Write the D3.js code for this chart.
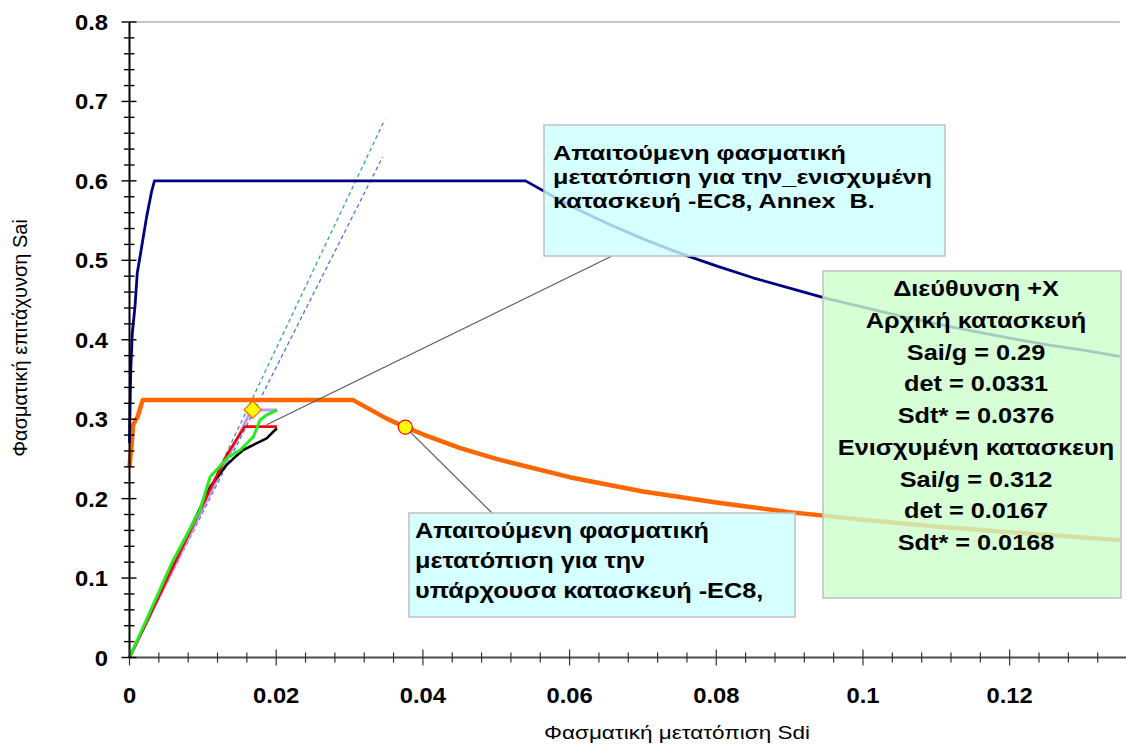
<!DOCTYPE html>
<html>
<head>
<meta charset="utf-8">
<script src="https://cdn.jsdelivr.net/npm/d3@7"></script>
<style>
  html, body { margin: 0; padding: 0; background: #ffffff; }
  svg { display: block; font-family: "Liberation Sans", Arial, sans-serif; }
  text { white-space: pre; }
</style>
</head>
<body>
<svg id="chart" width="1126" height="744"></svg>
<script>
// Axis settings
const xDomain = [0, 0.135];
const yDomain = [0, 0.8];
const xTickLabels = [0, 0.02, 0.04, 0.06, 0.08, 0.1, 0.12];
const yTickLabels = [0, 0.1, 0.2, 0.3, 0.4, 0.5, 0.6, 0.7, 0.8];

// Demand spectrum, strengthened structure (EC8 Annex B) [Sd, Sa]
const spectrumStrengthened = [
  [0, 0.27], [0.00005, 0.30], [0.00016, 0.358], [0.00038, 0.408], [0.00075, 0.442],
  [0.00106, 0.484], [0.00166, 0.517], [0.00234, 0.555], [0.0030, 0.586], [0.0034, 0.600],
  [0.054, 0.600], [0.060, 0.569], [0.065, 0.547], [0.070, 0.527], [0.075, 0.509],
  [0.080, 0.493], [0.085, 0.478], [0.090, 0.465], [0.095, 0.452], [0.100, 0.441],
  [0.105, 0.430], [0.110, 0.420], [0.115, 0.411], [0.120, 0.402], [0.125, 0.394],
  [0.130, 0.387], [0.135, 0.379]
];

// Demand spectrum, existing structure (EC8) [Sd, Sa]
const spectrumExisting = [
  [0, 0.24], [0.0003, 0.27], [0.0005, 0.293], [0.0011, 0.303], [0.0018, 0.324],
  [0.0305, 0.324], [0.035, 0.301], [0.0376, 0.290], [0.040, 0.281], [0.045, 0.264],
  [0.050, 0.250], [0.060, 0.227], [0.070, 0.209], [0.080, 0.195], [0.090, 0.183],
  [0.100, 0.1735], [0.110, 0.165], [0.120, 0.1576], [0.135, 0.148]
];

// Elastic stiffness lines
const stiffnessTeal = [[0, 0], [0.0348, 0.677]];
const stiffnessBlue = [[0, 0], [0.0345, 0.630]];

// Capacity curves [Sd, Sa]
const capacityLavender = [[0, 0], [0.0166, 0.3115], [0.0201, 0.3115]];
const capacityBlack = [
  [0, 0], [0.0110, 0.215], [0.0132, 0.242], [0.0142, 0.2507], [0.0155, 0.2612],
  [0.0173, 0.2696], [0.0187, 0.2759], [0.0196, 0.2842], [0.0201, 0.2885]
];
const capacityRed = [[0, 0], [0.0132, 0.254], [0.0157, 0.2906], [0.0201, 0.2906]];
const capacityGreen = [
  [0, 0], [0.00575, 0.1186], [0.0096, 0.1857], [0.0110, 0.2276], [0.0135, 0.2528],
  [0.0151, 0.2612], [0.0169, 0.278], [0.0178, 0.299], [0.0187, 0.3053], [0.0201, 0.3115]
];

// Performance points
const pointStrengthened = [0.0168, 0.312];
const pointExisting = [0.0376, 0.290];

// Annotation texts
const noteAnnexB = ["Απαιτούμενη φασματική", "μετατόπιση για την_ενισχυμένη", "κατασκευή -EC8, Annex  B."];
const noteEC8 = ["Απαιτούμενη φασματική", "μετατόπιση για την", "υπάρχουσα κατασκευή -EC8,"];
const legendLines = [
  "Διεύθυνση +Χ", "Αρχική κατασκευή", "Sai/g = 0.29", "det = 0.0331", "Sdt* = 0.0376",
  "Ενισχυμένη κατασκευη", "Sai/g = 0.312", "det = 0.0167", "Sdt* = 0.0168"
];

const svg = d3.select("#chart");
const x = d3.scaleLinear().domain(xDomain).range([129.5, 1119.7]);
const y = d3.scaleLinear().domain(yDomain).range([657.5, 22]);
const line = d3.line().x(d => x(d[0])).y(d => y(d[1]));

// Text drawn with a slight horizontal widening
function wideText(parent, px, py, txt, size, sx, anchor, bold) {
  return parent.append("text")
    .attr("transform", `translate(${px},${py}) scale(${sx},1)`)
    .attr("text-anchor", anchor || "start")
    .attr("font-size", size)
    .attr("font-weight", bold ? "bold" : "normal")
    .attr("fill", "#000")
    .text(txt);
}

// Top frame line
svg.append("line")
  .attr("x1", x(0)).attr("x2", x(xDomain[1]))
  .attr("y1", y(0.8)).attr("y2", y(0.8))
  .attr("stroke", "#8c8c8c").attr("stroke-width", 1);

// Stiffness lines (dashed)
svg.append("path").datum(stiffnessTeal).attr("d", line)
  .attr("fill", "none").attr("stroke", "#2a9d9d").attr("stroke-width", 1.2)
  .attr("stroke-dasharray", "4,3");
svg.append("path").datum(stiffnessBlue).attr("d", line)
  .attr("fill", "none").attr("stroke", "#3f6cf0").attr("stroke-width", 1.2)
  .attr("stroke-dasharray", "4,3");

// Capacity curves
const capacity = [
  { data: capacityLavender, color: "#c39bf5", w: 3 },
  { data: capacityBlack, color: "#000000", w: 2.6 },
  { data: capacityRed, color: "#ff0000", w: 2.6 },
  { data: capacityGreen, color: "#22ee22", w: 3 }
];
capacity.forEach(c => {
  svg.append("path").datum(c.data).attr("d", line)
    .attr("fill", "none").attr("stroke", c.color).attr("stroke-width", c.w)
    .attr("stroke-linejoin", "round");
});

// Demand spectra
svg.append("path").datum(spectrumExisting).attr("d", line)
  .attr("fill", "none").attr("stroke", "#ff6600").attr("stroke-width", 4.5)
  .attr("stroke-linejoin", "round");
svg.append("path").datum(spectrumStrengthened).attr("d", line)
  .attr("fill", "none").attr("stroke", "#000080").attr("stroke-width", 2.8)
  .attr("stroke-linejoin", "round");

// Axes
const axisG = svg.append("g");
axisG.append("line")
  .attr("x1", x(0)).attr("x2", 1126).attr("y1", y(0)).attr("y2", y(0))
  .attr("stroke", "#4d4d4d").attr("stroke-width", 2);
axisG.append("line")
  .attr("x1", x(0)).attr("x2", x(0)).attr("y1", y(0.8)).attr("y2", y(0))
  .attr("stroke", "#000000").attr("stroke-width", 2);

// X ticks: minor every 0.004, major every 0.02
d3.range(0, 133, 4).map(i => i / 1000).forEach((v, i) => {
  const major = i % 5 === 0;
  const h = major ? 8 : 5;
  axisG.append("line")
    .attr("x1", x(v)).attr("x2", x(v))
    .attr("y1", y(0) - h).attr("y2", y(0) + h)
    .attr("stroke", "#333333").attr("stroke-width", 1.2);
});
// Y ticks: minor every 0.02, major every 0.1
d3.range(0, 41).map(i => i * 0.02).forEach((v, i) => {
  const major = i % 5 === 0;
  axisG.append("line")
    .attr("x1", x(0) - (major ? 8 : 5.5)).attr("x2", x(0) + (major ? 7 : 5))
    .attr("y1", y(v)).attr("y2", y(v))
    .attr("stroke", "#000000").attr("stroke-width", 1.4);
});

xTickLabels.forEach(d => wideText(axisG, x(d), 703, d, 22, 1.08, "middle", true));
yTickLabels.forEach(d => wideText(axisG, 108, y(d) + 8, d, 22, 1.08, "end", true));

// Axis titles
wideText(svg, 677, 739, "Φασματική μετατόπιση Sdi", 18, 1.25, "middle", false);
svg.append("text")
  .attr("transform", "translate(27,338) rotate(-90)")
  .attr("text-anchor", "middle").attr("font-size", 20)
  .text("Φασματική επιτάχυνση Sai");

// Annotation boxes
function noteBox(x0, y0, x1, y1, fill) {
  svg.append("rect")
    .attr("x", x0).attr("y", y0).attr("width", x1 - x0).attr("height", y1 - y0)
    .attr("fill", fill).attr("fill-opacity", 0.8)
    .attr("stroke", "#c0c0c0").attr("stroke-width", 1.5);
}

// Leader lines
svg.append("line")
  .attr("x1", x(0.0187)).attr("y1", y(0.293)).attr("x2", 612).attr("y2", 256)
  .attr("stroke", "#5a5a5a").attr("stroke-width", 1.2);
svg.append("line")
  .attr("x1", x(pointExisting[0])).attr("y1", y(pointExisting[1])).attr("x2", 493).attr("y2", 514)
  .attr("stroke", "#5a5a5a").attr("stroke-width", 1.2);

noteBox(544, 125, 945, 256, "#ccffff");
noteAnnexB.forEach((t, i) => wideText(svg, 553, 160 + i * 24, t, 21, 1.2, "start", true));

noteBox(409, 513, 795, 617, "#ccffff");
noteEC8.forEach((t, i) => wideText(svg, 415, 538 + i * 30, t, 22, 1.15, "start", true));

noteBox(823, 271, 1121, 598, "#ccffcc");
legendLines.forEach((t, i) => wideText(svg, 976, 296 + i * 31.75, t, 22, 1.15, "middle", true));

// Performance points
const diamond = d3.symbol().type(d3.symbolDiamond2).size(190);
svg.append("path").attr("d", diamond)
  .attr("transform", `translate(${x(pointStrengthened[0])},${y(pointStrengthened[1])})`)
  .attr("fill", "#ffff00").attr("stroke", "#ff6600").attr("stroke-width", 1.2);
svg.append("circle")
  .attr("cx", x(pointExisting[0])).attr("cy", y(pointExisting[1])).attr("r", 7)
  .attr("fill", "#ffff00").attr("stroke", "#ff0000").attr("stroke-width", 1.2);
</script>
</body>
</html>
